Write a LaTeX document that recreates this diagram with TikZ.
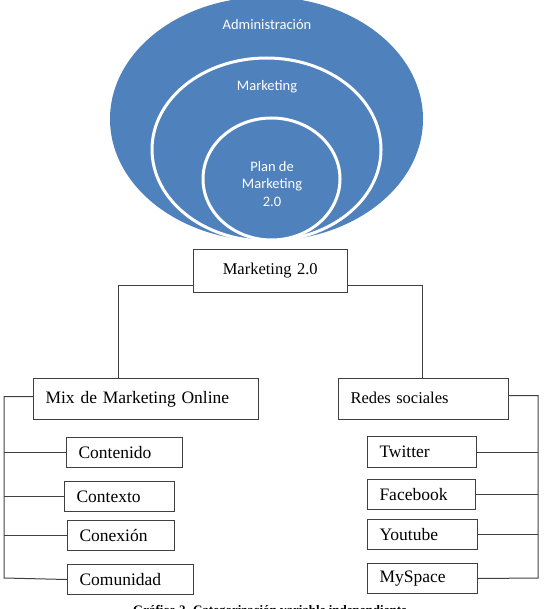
\documentclass[tikz,border=0pt]{standalone}
\usepackage{fontspec}
\setmainfont{Liberation Serif}
\newfontfamily\calfont{Carlito}
\usetikzlibrary{calc}
\definecolor{offblue}{HTML}{4F81BD}
\definecolor{wirec}{HTML}{404040}
\tikzset{
  box/.style={draw=wirec, line width=1pt, rectangle, inner ysep=0pt, inner xsep=12pt,
    align=left, anchor=north west, font=\fontsize{17.5}{20}\selectfont},
  wire/.style={draw=wirec, line width=1pt},
  ring/.style={fill=offblue, draw=white, line width=3pt},
  eltext/.style={text=white, font=\calfont\fontsize{14.5}{17.5}\selectfont, align=center, inner sep=0pt}
}
\begin{document}
\begin{tikzpicture}[x=1pt,y=-1pt]
\useasboundingbox (0,0) rectangle (543,609);
\clip (0,0) rectangle (543,609);
% nested ellipses
\fill[offblue] (266.5,119) ellipse [x radius=156.5pt, y radius=122pt];
\filldraw[ring] (266.5,149.5) ellipse [x radius=114.5pt, y radius=91.5pt];
\filldraw[ring] (271.5,179) ellipse [x radius=68.5pt, y radius=61pt];
\node[eltext] (adm) at (267,25) {Administración};
\node[eltext] (mkt) at (267,87) {Marketing};
\node[eltext] (plan) at (272,184) {Plan de\\Marketing\\2.0};
% boxes
\node[box, text width=129.5pt, minimum height=43pt, align=center, font=\fontsize{16.5}{20}\selectfont] (m20) at (193,249) {\raisebox{3pt}{Marketing 2.0}};
\node[box, text width=201pt, minimum height=41pt] (mix) at (33,378) {Mix de Marketing Online};
\node[box, text width=146pt, minimum height=41pt, font=\fontsize{16.5}{20}\selectfont] (redes) at (338,378) {\raisebox{2pt}{Redes sociales}};
\node[box, text width=92pt, minimum height=30pt] (contenido) at (66,437) {Contenido};
\node[box, text width=86pt, minimum height=30pt] (contexto) at (64,481) {Contexto};
\node[box, text width=83pt, minimum height=30pt] (conexion) at (67,520) {Conexión};
\node[box, text width=102pt, minimum height=30pt] (comunidad) at (67,564) {Comunidad};
\node[box, text width=85pt, minimum height=31pt] (twitter) at (367,436) {Twitter};
\node[box, text width=84pt, minimum height=30pt] (facebook) at (367,479) {Facebook};
\node[box, text width=86pt, minimum height=30pt] (youtube) at (367,519) {Youtube};
\node[box, text width=86pt, minimum height=30pt] (myspace) at (367,563) {MySpace};
% connectors
\draw[wire] ($(m20.south west)+(0,-8)$) -| ($(mix.north west)+(85,0)$);
\draw[wire] ($(m20.south east)+(0,-8)$) -| ($(redes.north west)+(84,0)$);
\coordinate (lb) at (4,578);
\coordinate (rb) at (538,578);
\draw[wire] ($(mix.west)+(0,-2.5)$) -| (lb) -- (comunidad.west);
\draw[wire] (contenido.west) -- (contenido.west -| lb);
\draw[wire] (contexto.west) -- (contexto.west -| lb);
\draw[wire] (conexion.west) -- (conexion.west -| lb);
\draw[wire] ($(redes.east)+(0,-3.5)$) -| (rb) -- (myspace.east);
\draw[wire] (twitter.east) -- (twitter.east -| rb);
\draw[wire] (facebook.east) -- (facebook.east -| rb);
\draw[wire] (youtube.east) -- (youtube.east -| rb);
% caption (cut off by the page edge, as in the reference)
\node[anchor=base, inner sep=0pt, font=\bfseries\fontsize{13}{15}\selectfont] (cap) at (270,614.5) {Gráfico 2. Categorización variable independiente};
\end{tikzpicture}
\end{document}
